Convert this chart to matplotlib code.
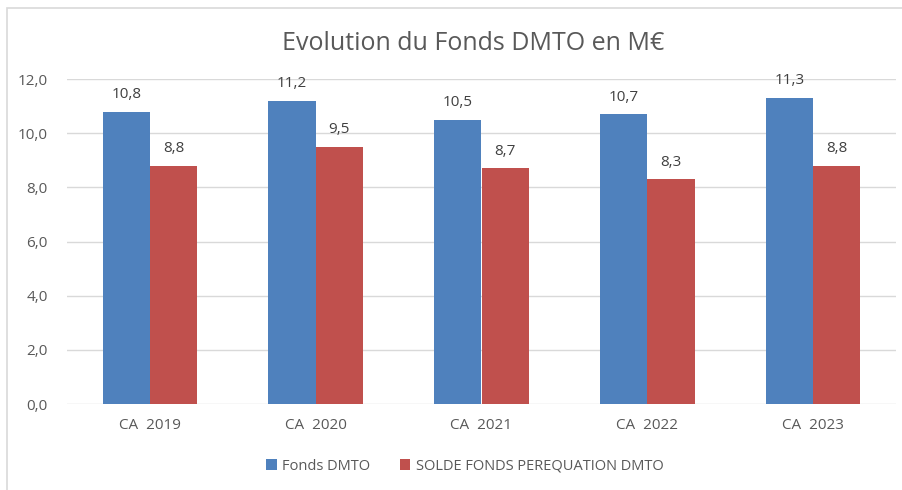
import numpy as np
import matplotlib.pyplot as plt
from matplotlib.patches import Rectangle

categories = ["CA  2019", "CA  2020", "CA  2021", "CA  2022", "CA  2023"]
fonds_dmto = [10.8, 11.2, 10.5, 10.7, 11.3]
solde_perequation = [8.8, 9.5, 8.7, 8.3, 8.8]
series_names = ["Fonds DMTO", "SOLDE FONDS PEREQUATION DMTO"]

plt.rcParams['font.family'] = ['Open Sans', 'DejaVu Sans']
txt = '#595959'

fig = plt.figure(figsize=(9.02, 4.9), dpi=100)
ax = fig.add_axes([67/902, 1-404/490, (896-67)/902, (404-79)/490])

# chart border
fig.patches.append(Rectangle((7/902, -0.05), 1.0, 1-8/490+0.05, transform=fig.transFigure,
                             fill=False, edgecolor='#d9d9d9', linewidth=1.2))

x = np.arange(len(categories))
w = 0.285
b1 = ax.bar(x - w/2, fonds_dmto, w, color='#4f81bd', label=series_names[0], zorder=3)
b2 = ax.bar(x + w/2, solde_perequation, w, color='#c0504d', label=series_names[1], zorder=3)

for bars in (b1, b2):
    for r in bars:
        ax.text(r.get_x() + r.get_width()/2, r.get_height() + 0.35,
                f"{r.get_height():.1f}".replace('.', ','), ha='center', va='bottom',
                fontsize=11, color='#404040')

ax.set_xlim(-0.5, len(categories) - 0.5)
ax.set_ylim(0, 12)
ax.set_yticks(np.arange(0, 12.1, 2))
ax.set_yticklabels([f"{v:.1f}".replace('.', ',') for v in np.arange(0, 12.1, 2)])
ax.set_xticks(x)
ax.set_xticklabels(categories)
ax.tick_params(length=0, labelsize=11, colors=txt)
ax.tick_params(axis='y', pad=14)
ax.tick_params(axis='x', pad=10)
ax.grid(axis='y', color='#d9d9d9', linewidth=1, zorder=0)
for s in ax.spines.values():
    s.set_visible(False)

fig.text(473/902, 1-43/490, "Evolution du Fonds DMTO en M€", ha='center', va='center',
         fontsize=18, color=txt)

fig.legend(handles=[b1, b2], loc='center', bbox_to_anchor=(465/902, 1-466/490), ncol=2,
           frameon=False, fontsize=10.5, labelcolor=txt, handlelength=0.7, handleheight=0.7,
           columnspacing=2.0, handletextpad=0.4)

fig.savefig('out.png', dpi=100)
